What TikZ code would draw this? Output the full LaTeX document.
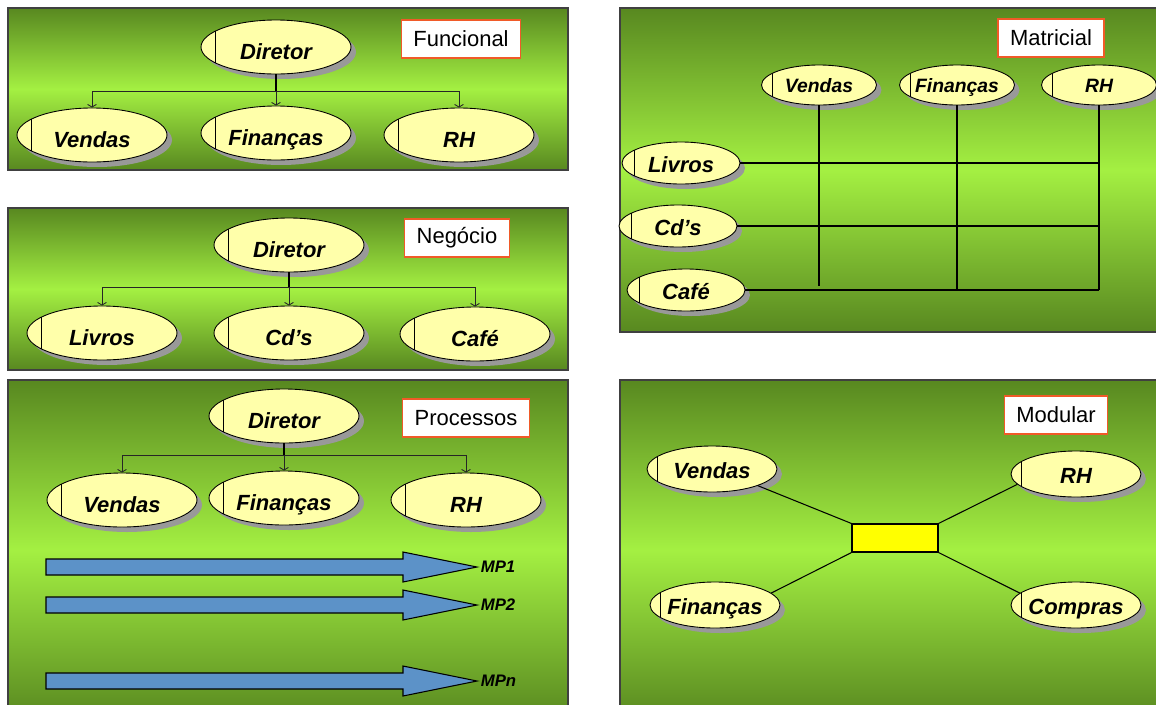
\documentclass[tikz,border=0pt]{standalone}
\usepackage{fontspec}
\setmainfont{Liberation Sans}
\usetikzlibrary{shapes.geometric,shadows,arrows.meta}
\definecolor{panelDark}{RGB}{88,136,32}
\definecolor{panelLight}{RGB}{164,240,66}
\definecolor{unitFill}{RGB}{255,255,170}
\definecolor{tagLine}{RGB}{240,90,40}
\definecolor{flowBlue}{RGB}{92,146,200}
\definecolor{coreYellow}{RGB}{255,255,0}

\begin{document}
\begin{tikzpicture}[x=0.02cm, y=-0.02cm,
	panel/.style={top color=panelDark, bottom color=panelDark, middle color=panelLight, draw=black!75, line width=0.6pt},
	notch/.style={path picture={\draw ([xshift=#1]path picture bounding box.south west) -- ([xshift=#1]path picture bounding box.north west);}},
	unit/.style={ellipse, draw=black, line width=0.5pt, fill=unitFill, minimum width=3cm, minimum height=1.08cm,
		inner sep=0pt, inner xsep=-0.3cm, text height=14pt, text depth=0pt,
		font=\fontsize{12.5}{14}\selectfont\bfseries\itshape,
		drop shadow={shadow xshift=0.1cm, shadow yshift=-0.1cm, fill=black!40, opacity=1}, notch=0.28cm},
	smallunit/.style={unit, minimum width=2.3cm, minimum height=0.8cm, text height=9pt,
		font=\fontsize{11}{12}\selectfont\bfseries\itshape, notch=0.22cm},
	rowunit/.style={unit, minimum width=2.36cm, minimum height=0.84cm, text height=11pt, notch=0.24cm},
	modunit/.style={unit, minimum width=2.6cm, minimum height=0.92cm, text height=11pt, notch=0.2cm},
	tag/.style={draw=tagLine, fill=white, line width=0.8pt, minimum height=0.76cm, inner xsep=0.24cm, font=\fontsize{12.5}{14}\selectfont},
	branch/.style={draw=black!85, line width=0.5pt, -{Straight Barb[length=1.5pt,width=5pt]}},
	wire/.style={draw=black, line width=0.6pt},
	flow/.style={draw=black, fill=flowBlue, line width=0.6pt},
	flowtag/.style={font=\fontsize{9.5}{10}\selectfont\bfseries\itshape, inner sep=2pt, anchor=west},
	core/.style={draw=black, fill=coreYellow, line width=0.6pt, minimum width=1.72cm, minimum height=0.56cm}]
	\useasboundingbox (0,0) rectangle (1156,704);

	% Funcional
	\begin{scope}[shift={(8,8)}]
		\path[panel] (0,0) rectangle (560,162);
		\node[tag] (tfun) at (453,31) {Funcional};
		\coordinate (fbus) at (268,83);
		\node[unit] (fdir) at (268,39) {Diretor};
		\node[unit] (fven) at (84,127) {Vendas};
		\node[unit] (ffin) at (268,125) {Finanças};
		\node[unit] (frh) at (451,127) {RH};
		\draw[wire] (fdir.south) -- (fbus);
		\foreach \c in {fven,ffin,frh}
			\draw[branch] (fbus) -| (\c.north);
	\end{scope}

	% Negocio
	\begin{scope}[shift={(8,208)}]
		\path[panel] (0,0) rectangle (560,162);
		\node[tag] (tneg) at (449,30) {Negócio};
		\coordinate (nbus) at (281,79);
		\node[unit] (ndir) at (281,37) {Diretor};
		\node[unit] (nliv) at (94,125) {Livros};
		\node[unit] (ncds) at (281,125) {Cd’s};
		\node[unit] (ncaf) at (467,126) {Café};
		\draw[wire] (ndir.south) -- (nbus);
		\foreach \c in {nliv,ncds,ncaf}
			\draw[branch] (nbus) -| (\c.north);
	\end{scope}

	% Processos
	\begin{scope}[shift={(8,380)}]
		\path[panel] (0,0) rectangle (560,340);
		\node[tag] (tpro) at (458,38) {Processos};
		\coordinate (pbus) at (276,75);
		\node[unit] (pdir) at (276,36) {Diretor};
		\node[unit] (pven) at (114,120) {Vendas};
		\node[unit] (pfin) at (276,118) {Finanças};
		\node[unit] (prh) at (458,120) {RH};
		\draw[wire] (pdir.south) -- (pbus);
		\foreach \c in {pven,pfin,prh}
			\draw[branch] (pbus) -| (\c.north);
		\foreach \y/\t in {187/MP1,225/MP2,301/MPn}{
			\draw[flow] (38,\y-8) -- (395,\y-8) -- (395,\y-15) -- (469,\y)
			-- (395,\y+15) -- (395,\y+8) -- (38,\y+8) -- cycle;
			\node[flowtag] (l\t) at (469,\y) {\t};
		}
	\end{scope}

	% Matricial
	\begin{scope}[shift={(620,8)}]
		\path[panel] (0,0) rectangle (560,324);
		\node[tag] (tmat) at (431,30) {Matricial};
		\node[smallunit] (mven) at (199,77) {Vendas};
		\node[smallunit] (mfin) at (337,77) {Finanças};
		\node[smallunit] (mrh) at (479,77) {RH};
		\node[rowunit] (mliv) at (61,155) {Livros};
		\node[rowunit] (mcds) at (58,218) {Cd’s};
		\node[rowunit] (mcaf) at (66,282) {Café};
		\foreach \r in {mliv,mcds,mcaf}
			\draw[wire] (\r.east) -- (\r.east -| mrh.south);
		\draw[wire, shorten >=0.08cm] (mven.south) -- (mven.south |- mcaf.east);
		\foreach \c in {mfin,mrh}
			\draw[wire] (\c.south) -- (\c.south |- mcaf.east);
	\end{scope}

	% Modular
	\begin{scope}[shift={(620,380)}]
		\path[panel] (0,0) rectangle (560,340);
		\node[tag] (tmod) at (436,35) {Modular};
		\node[core] (core) at (275,158) {};
		\node[modunit] (dven) at (92,89) {Vendas};
		\node[modunit] (drh) at (456,94) {RH};
		\node[modunit] (dfin) at (95,225) {Finanças};
		\node[modunit] (dcom) at (456,225) {Compras};
		\draw[wire] (dven.-20) -- (core.north west);
		\draw[wire] (drh.190) -- (core.north east);
		\draw[wire] (dfin.12) -- (core.south west);
		\draw[wire] (dcom.168) -- (core.south east);
	\end{scope}
\end{tikzpicture}
\end{document}
